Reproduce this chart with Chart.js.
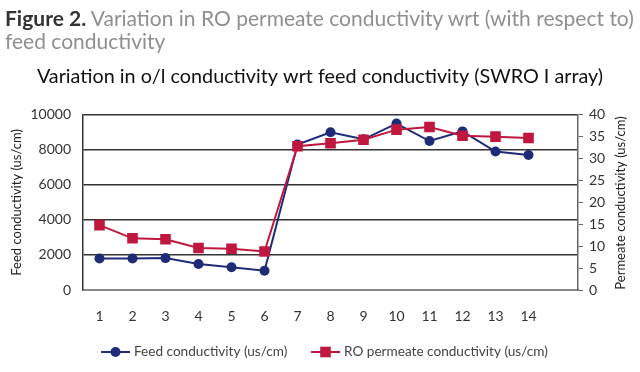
<!DOCTYPE html>
<html>

<head>
    <title>SWRO conductivity</title>
    <meta charset="UTF-8">
    <script src="https://cdn.jsdelivr.net/npm/chart.js@4.4.0/dist/chart.umd.min.js"></script>
    <style>
        body { margin: 0; background: #fff; }
        #wrap { position: relative; width: 640px; height: 372px; }
        #caption {
            position: absolute; left: 5px; top: 6px; width: 635px;
            font-family: Lato, sans-serif; font-size: 21px; line-height: 23px; color: #8f8f8f;
        }
        #caption b { color: #333; }
    </style>
</head>

<body>
    <div id="wrap">
        <canvas id="myChart" width="640" height="372"></canvas>
        <div id="caption"><b>Figure 2.</b> Variation in RO permeate conductivity wrt (with respect to) feed conductivity</div>
    </div>

    <script>
        // data
        var samples = ['1', '2', '3', '4', '5', '6', '7', '8', '9', '10', '11', '12', '13', '14', ''];
        var feed = [1800, 1800, 1820, 1480, 1300, 1100, 8300, 9000, 8600, 9500, 8500, 9050, 7900, 7700, null];
        var permeate = [14.8, 11.8, 11.6, 9.6, 9.4, 8.8, 32.8, 33.5, 34.3, 36.6, 37.2, 35.2, 35.0, 34.7, null];

        var navy = '#1e2c78';
        var red = '#c0173e';
        var font = 'Lato, "Open Sans", sans-serif';

        // legend with line + marker, and right axis title reading upwards
        var extras = {
            id: 'extras',
            afterDraw: function (chart) {
                var ctx = chart.ctx;
                ctx.save();
                ctx.translate(621, 203);
                ctx.rotate(-Math.PI / 2);
                ctx.fillStyle = '#222';
                ctx.font = '13px ' + font;
                ctx.textAlign = 'center';
                ctx.textBaseline = 'middle';
                ctx.fillText('Permeate conductivity (us/cm)', 0, 0);
                ctx.restore();

                var items = [
                    { x: 101, text: 'Feed conductivity (us/cm)', color: navy, style: 'circle', r: 5 },
                    { x: 311, text: 'RO permeate conductivity (us/cm)', color: red, style: 'rect', r: 7.5 }
                ];
                var y = 352;
                items.forEach(function (it) {
                    ctx.save();
                    ctx.strokeStyle = it.color;
                    ctx.lineWidth = 2;
                    ctx.beginPath();
                    ctx.moveTo(it.x, y);
                    ctx.lineTo(it.x + 29, y);
                    ctx.stroke();
                    ctx.fillStyle = it.color;
                    Chart.helpers.drawPoint(ctx, { pointStyle: it.style, radius: it.r, borderWidth: 0 }, it.x + 14.5, y);
                    ctx.fillStyle = '#444';
                    ctx.font = '13.6px ' + font;
                    ctx.textBaseline = 'middle';
                    ctx.fillText(it.text, it.x + 33, y);
                    ctx.restore();
                });
            }
        };

        var ctx = document.getElementById('myChart').getContext('2d');
        var chart = new Chart(ctx, {
            type: 'line',
            data: {
                labels: samples,
                datasets: [{
                    label: 'Feed conductivity (us/cm)',
                    data: feed,
                    yAxisID: 'y',
                    borderColor: navy,
                    backgroundColor: navy,
                    borderWidth: 2,
                    pointStyle: 'circle',
                    pointRadius: 5,
                    pointBorderWidth: 0,
                    order: 2
                }, {
                    label: 'RO permeate conductivity (us/cm)',
                    data: permeate,
                    yAxisID: 'y2',
                    borderColor: red,
                    backgroundColor: red,
                    borderWidth: 2,
                    pointStyle: 'rect',
                    pointRadius: 7.5,
                    pointBorderWidth: 0,
                    order: 1
                }]
            },
            options: {
                responsive: false,
                animation: false,
                layout: { padding: 0 },
                plugins: {
                    legend: { display: false },
                    tooltip: { enabled: false },
                    title: {
                        display: true,
                        text: 'Variation in o/l conductivity wrt feed conductivity (SWRO I array)',
                        color: '#111',
                        font: { family: font, size: 19.8, weight: 'normal' },
                        padding: { top: 65, bottom: 26 }
                    }
                },
                scales: {
                    x: {
                        offset: true,
                        grid: { display: false, drawTicks: false },
                        border: { color: '#888', width: 2 },
                        ticks: { color: '#333', padding: 18, font: { family: font, size: 14 }, maxRotation: 0 },
                        afterFit: function (s) { s.height = 82; }
                    },
                    y: {
                        position: 'left',
                        min: 0, max: 10000,
                        ticks: {
                            stepSize: 2000, color: '#333', padding: 12, font: { family: font, size: 14 },
                            callback: function (v) { return String(v); }
                        },
                        grid: { color: '#333', lineWidth: 1.5, drawTicks: false },
                        border: { color: '#333', width: 1.5 },
                        title: {
                            display: true, text: 'Feed conductivity (us/cm)', color: '#222',
                            font: { family: font, size: 13 }, padding: { top: 9, bottom: 0 }
                        },
                        afterFit: function (s) { s.width = 83; }
                    },
                    y2: {
                        position: 'right',
                        min: 0, max: 40,
                        ticks: { stepSize: 5, color: '#333', padding: 6, font: { family: font, size: 14 } },
                        grid: { drawOnChartArea: false, color: '#666', tickLength: 5 },
                        border: { color: '#666', width: 1.5 },
                        afterFit: function (s) { s.width = 62; }
                    }
                }
            },
            plugins: [extras]
        });
    </script>

</body>

</html>
